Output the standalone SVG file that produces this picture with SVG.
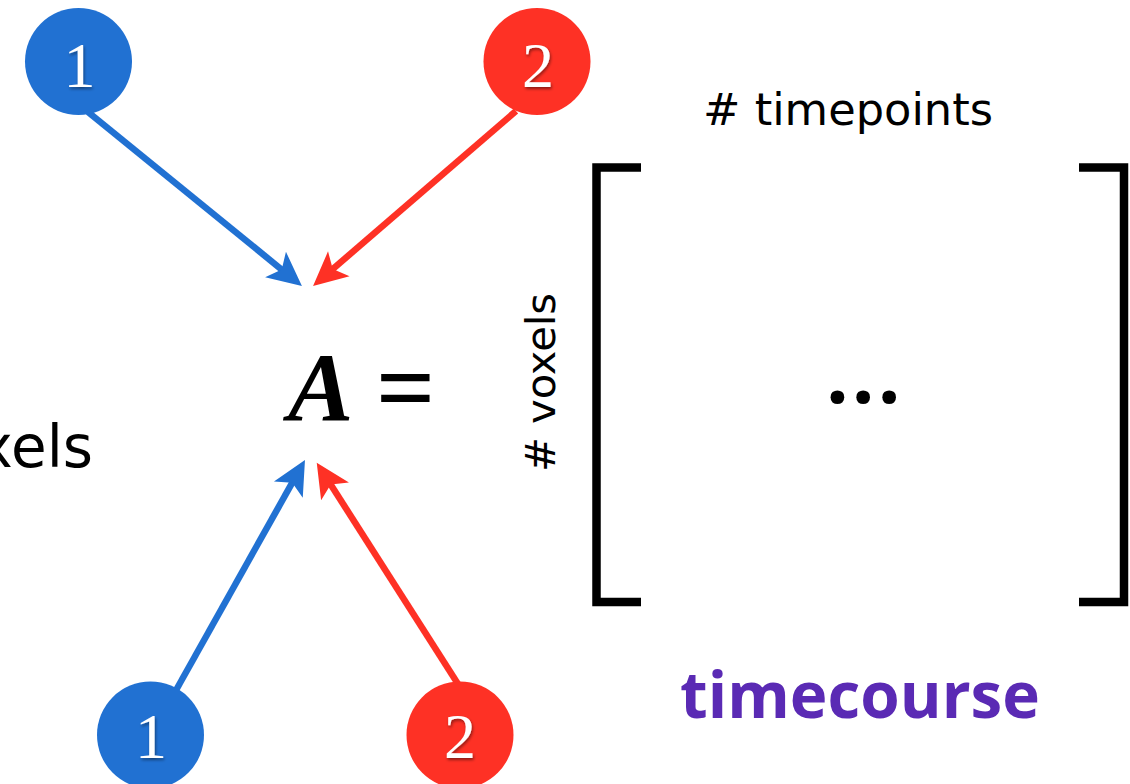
<svg xmlns="http://www.w3.org/2000/svg" width="1130" height="784" viewBox="0 0 1130 784">
<style>
.conn{fill:none;stroke-width:6.5;stroke-linecap:butt}
.blue{stroke:#2171d2}
.red{stroke:#fe3125}
.nb{fill:#2171d2}
.nr{fill:#fe3125}
.num{font-family:"Liberation Serif",serif;font-size:64px;fill:#ffffff;text-anchor:middle}
.lbl{font-family:"DejaVu Sans",sans-serif;fill:#000000}
.br{fill:none;stroke:#000000;stroke-width:8.5;stroke-linecap:butt;stroke-linejoin:miter}
</style>
<defs>
<marker id="ab" markerUnits="userSpaceOnUse" markerWidth="40" markerHeight="40" viewBox="0 -20 40 40" refX="14" refY="0" orient="auto" overflow="visible">
<path d="M34,0 L0,-16.5 L8,0 L0,16.5 Z" fill="#2171d2"/>
</marker>
<marker id="ar" markerUnits="userSpaceOnUse" markerWidth="40" markerHeight="40" viewBox="0 -20 40 40" refX="14" refY="0" orient="auto" overflow="visible">
<path d="M34,0 L0,-16.5 L8,0 L0,16.5 Z" fill="#fe3125"/>
</marker>
<filter id="sh" x="-30%" y="-30%" width="160%" height="160%">
<feDropShadow dx="1" dy="2" stdDeviation="1.5" flood-color="#000000" flood-opacity="0.45"/>
</filter>
</defs>
<rect width="1130" height="784" fill="#ffffff"/>
<g id="connectors">
<line class="conn blue" x1="88" y1="112" x2="286.4" y2="273.4" marker-end="url(#ab)"/>
<line class="conn red" x1="516" y1="111" x2="328.2" y2="273.0" marker-end="url(#ar)"/>
<line class="conn blue" x1="175" y1="692" x2="295.2" y2="477.4" marker-end="url(#ab)"/>
<line class="conn red" x1="458" y1="684" x2="327.5" y2="479.5" marker-end="url(#ar)"/>
</g>
<g id="node-top-1">
<circle class="nb" cx="78.5" cy="61.5" r="53.5"/>
<text class="num" x="79.5" y="87" filter="url(#sh)">1</text>
</g>
<g id="node-top-2">
<circle class="nr" cx="537" cy="61.5" r="53.5"/>
<text class="num" x="538" y="87" filter="url(#sh)">2</text>
</g>
<g id="node-bottom-1">
<circle class="nb" cx="150.5" cy="735" r="53.5"/>
<text class="num" x="151" y="758" filter="url(#sh)">1</text>
</g>
<g id="node-bottom-2">
<circle class="nr" cx="460" cy="735" r="53.5"/>
<text class="num" x="460" y="758" filter="url(#sh)">2</text>
</g>
<g id="equation">
<text x="288" y="420" font-family="Liberation Serif,serif" font-size="98" font-weight="bold" font-style="italic" fill="#000000">A</text>
<text x="376" y="422" font-family="Liberation Serif,serif" font-size="104" font-weight="bold" fill="#000000">=</text>
</g>
<g id="voxels-left">
<text class="lbl" x="93" y="467" font-size="58" text-anchor="end">voxels</text>
</g>
<g id="matrix">
<path class="br" d="M641,167.5 H596.5 V602 H641"/>
<path class="br" d="M1079,167.5 H1124 V602 H1079"/>
<text x="826" y="403" font-family="Open Sans,sans-serif" font-weight="bold" font-size="80" letter-spacing="3" fill="#000000">...</text>
<text class="lbl" x="703" y="125" font-size="44" textLength="290" lengthAdjust="spacingAndGlyphs"># timepoints</text>
<text class="lbl" transform="translate(555,472) rotate(-90)" x="0" y="0" font-size="41" textLength="179" lengthAdjust="spacingAndGlyphs"># voxels</text>
<text x="680" y="718" font-family="Open Sans,sans-serif" font-weight="bold" font-size="64" fill="#5a2ab4" textLength="360" lengthAdjust="spacingAndGlyphs">timecourse</text>
</g>
</svg>
